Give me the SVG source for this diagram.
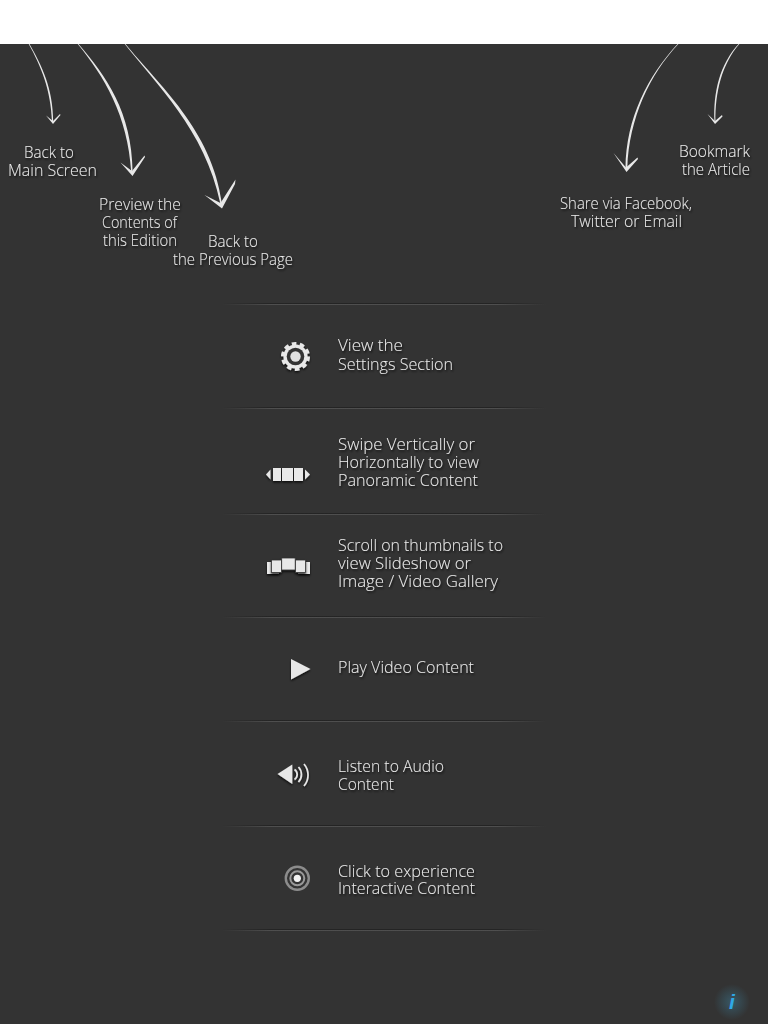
<svg xmlns="http://www.w3.org/2000/svg" width="768" height="1024" viewBox="0 0 768 1024">
<style>
.t{font-family:"Open Sans","Liberation Sans",sans-serif;font-weight:300;font-size:17px;fill:#ececec;filter:url(#ts);transform:translateY(-.7px)}
.a{fill:#e8e8e8}
.ic{fill:#e8e8e8;filter:url(#is)}
.d{fill:url(#dg)}
.l{fill:url(#lg)}
</style>
<defs>
<linearGradient id="dg"><stop offset="0" stop-color="#1e1e1e" stop-opacity="0"/><stop offset=".15" stop-color="#1e1e1e" stop-opacity=".7"/><stop offset=".85" stop-color="#1e1e1e" stop-opacity=".7"/><stop offset="1" stop-color="#1e1e1e" stop-opacity="0"/></linearGradient>
<linearGradient id="lg"><stop offset="0" stop-color="#555" stop-opacity="0"/><stop offset=".15" stop-color="#5a5a5a" stop-opacity=".7"/><stop offset=".85" stop-color="#5a5a5a" stop-opacity=".7"/><stop offset="1" stop-color="#555" stop-opacity="0"/></linearGradient>
<radialGradient id="gl"><stop offset="0" stop-color="#3f8fb0" stop-opacity=".4"/><stop offset="1" stop-color="#3f8fb0" stop-opacity="0"/></radialGradient>
<filter id="ts" x="-10%" y="-30%" width="120%" height="170%"><feDropShadow dx="1" dy="1.5" stdDeviation="1" flood-color="#000" flood-opacity=".8"/></filter>
<filter id="is" x="-20%" y="-20%" width="140%" height="150%"><feDropShadow dx="0" dy="1.5" stdDeviation=".8" flood-color="#000" flood-opacity=".8"/></filter>
</defs>
<rect width="768" height="1024" fill="#333333"/>
<rect width="768" height="44" fill="#fff"/>
<g id="dividers">
<rect class="d" x="222" y="303" width="324" height="1"/><rect class="l" x="222" y="304" width="324" height="1"/>
<rect class="d" x="222" y="407" width="324" height="1"/><rect class="l" x="222" y="408" width="324" height="1"/>
<rect class="d" x="222" y="513" width="324" height="1"/><rect class="l" x="222" y="514" width="324" height="1"/>
<rect class="d" x="222" y="616" width="324" height="1"/><rect class="l" x="222" y="617" width="324" height="1"/>
<rect class="d" x="222" y="720" width="324" height="1"/><rect class="l" x="222" y="721" width="324" height="1"/>
<rect class="d" x="222" y="825" width="324" height="1"/><rect class="l" x="222" y="826" width="324" height="1"/>
<rect class="d" x="222" y="929" width="324" height="1"/><rect class="l" x="222" y="930" width="324" height="1"/>
</g>
<g id="connectors">
<path class="a" d="M29.500 44C42 66 53 88 53.200 122L52 122C51 90 41 66 28.700 44Z"/>
<path class="a" d="M46 115.500L53 121L60 114L60.500 115L53 124Z"/>
<path class="a" d="M78.500 44C106 76 132 112 132.600 172L131.200 172C128 116 104 76 77.700 44Z"/>
<path class="a" d="M120.500 162.500L132 171L144.500 155.500L145 157L132.500 176Z"/>
<path class="a" d="M125.500 44C158 84 212 130 221.800 203L220.200 203C205 130 156 84 124.700 44Z"/>
<path class="a" d="M204.500 195L220.500 203L235.500 179.500L235 184L222 208.500Z"/>
<path class="a" d="M678.400 44C650 74 629 118 627.300 168L625.500 168C626 118 648 76 677.600 44Z"/>
<path class="a" d="M613.500 153L626 167.500L637.500 157.500L638 159L626.500 172Z"/>
<path class="a" d="M739.400 44C722 64 715 92 715.500 122L714.500 122C713 92 720 64 738.600 44Z"/>
<path class="a" d="M707.500 114L715 121L722 115L722.500 116.500L715 124Z"/>
</g>
<g id="back-main"><text class="t" x="24" y="158.500" textLength="50" lengthAdjust="spacingAndGlyphs">Back to</text><text class="t" x="8" y="176.500" textLength="89" lengthAdjust="spacingAndGlyphs">Main Screen</text></g>
<g id="preview"><text class="t" x="99" y="210.500" textLength="82" lengthAdjust="spacingAndGlyphs">Preview the</text><text class="t" x="102" y="228.500" textLength="75" lengthAdjust="spacingAndGlyphs">Contents of</text><text class="t" x="103" y="246.500" textLength="74" lengthAdjust="spacingAndGlyphs">this Edition</text></g>
<g id="back-prev"><text class="t" x="208" y="247.500" textLength="50" lengthAdjust="spacingAndGlyphs">Back to</text><text class="t" x="173" y="265.500" textLength="120" lengthAdjust="spacingAndGlyphs">the Previous Page</text></g>
<g id="share"><text class="t" x="560" y="209.500" textLength="132" lengthAdjust="spacingAndGlyphs">Share via Facebook,</text><text class="t" x="571" y="227.500" textLength="111" lengthAdjust="spacingAndGlyphs">Twitter or Email</text></g>
<g id="bookmark"><text class="t" x="679" y="158" textLength="71" lengthAdjust="spacingAndGlyphs">Bookmark</text><text class="t" x="682" y="175.500" textLength="68" lengthAdjust="spacingAndGlyphs">the Article</text></g>
<g id="settings">
<g class="ic"><circle cx="295.500" cy="356.500" r="12"/><circle cx="295.500" cy="356.500" r="12.800" fill="none" stroke="#e8e8e8" stroke-width="3.400" stroke-dasharray="4.500 3.540"/></g>
<circle cx="295.500" cy="356.500" r="8.800" fill="#333333"/><circle cx="295.500" cy="356.500" r="5.200" fill="#e0e0e0"/>
<text class="t" x="338" y="351.500" textLength="65" lengthAdjust="spacingAndGlyphs">View the</text><text class="t" x="338" y="370.500" textLength="115" lengthAdjust="spacingAndGlyphs">Settings Section</text>
</g>
<g id="swipe">
<g class="ic"><path d="M270.500 469.500V479.500L266 474.500Z"/><rect x="273" y="468" width="8" height="13"/><rect x="282" y="468" width="11" height="13"/><rect x="294" y="468" width="9" height="13"/><path d="M305 469.500V479.500L310 474.500Z"/></g>
<text class="t" x="338" y="450.500" textLength="137" lengthAdjust="spacingAndGlyphs">Swipe Vertically or</text><text class="t" x="338" y="469" textLength="141" lengthAdjust="spacingAndGlyphs">Horizontally to view</text><text class="t" x="338" y="487" textLength="140" lengthAdjust="spacingAndGlyphs">Panoramic Content</text>
</g>
<g id="scroll">
<g class="ic"><rect x="267" y="562" width="12" height="12"/><rect x="298" y="562" width="12" height="12"/></g>
<g class="ic" stroke="#333333" stroke-width=".8"><rect x="271.500" y="560" width="10" height="12.500"/><rect x="295.500" y="560" width="10" height="12.500"/><rect x="281.700" y="558" width="13.500" height="12"/></g>
<text class="t" x="338" y="551.500" textLength="165" lengthAdjust="spacingAndGlyphs">Scroll on thumbnails to</text><text class="t" x="338" y="569.500" textLength="133" lengthAdjust="spacingAndGlyphs">view Slideshow or</text><text class="t" x="338" y="587.500" textLength="160" lengthAdjust="spacingAndGlyphs">Image / Video Gallery</text>
</g>
<g id="play">
<path class="ic" d="M291 659L310.500 669L291 679.500Z"/>
<text class="t" x="338" y="673.500" textLength="136" lengthAdjust="spacingAndGlyphs">Play Video Content</text>
</g>
<g id="audio">
<g filter="url(#is)"><path fill="#e8e8e8" d="M277.500 774L292.300 764.500V784Z"/>
<path fill="none" stroke="#e8e8e8" stroke-width="1.700" d="M294.500 769.500A6 6 0 0 1 294.500 779.500M298.500 767A11 11 0 0 1 298.500 782M304 764A17 17 0 0 1 304 786"/></g>
<text class="t" x="338" y="772.500" textLength="106" lengthAdjust="spacingAndGlyphs">Listen to Audio</text><text class="t" x="338" y="790.500" textLength="56" lengthAdjust="spacingAndGlyphs">Content</text>
</g>
<g id="interactive">
<circle cx="297.300" cy="878.300" r="11.500" fill="none" stroke="#8c8c8c" stroke-width="2.400"/><circle cx="297.300" cy="878.300" r="7" fill="none" stroke="#999" stroke-width="2"/><circle cx="297.300" cy="878.300" r="3.600" fill="#f2f2f2"/>
<text class="t" x="338" y="877.500" textLength="137" lengthAdjust="spacingAndGlyphs">Click to experience</text><text class="t" x="338" y="894.500" textLength="137" lengthAdjust="spacingAndGlyphs">Interactive Content</text>
</g>
<g id="info">
<circle cx="732" cy="1002" r="18" fill="url(#gl)"/>
<text x="732" y="1009" text-anchor="middle" font-family="Liberation Sans, sans-serif" font-style="italic" font-weight="700" font-size="21" fill="#2fa8e6">i</text>
</g>
</svg>
